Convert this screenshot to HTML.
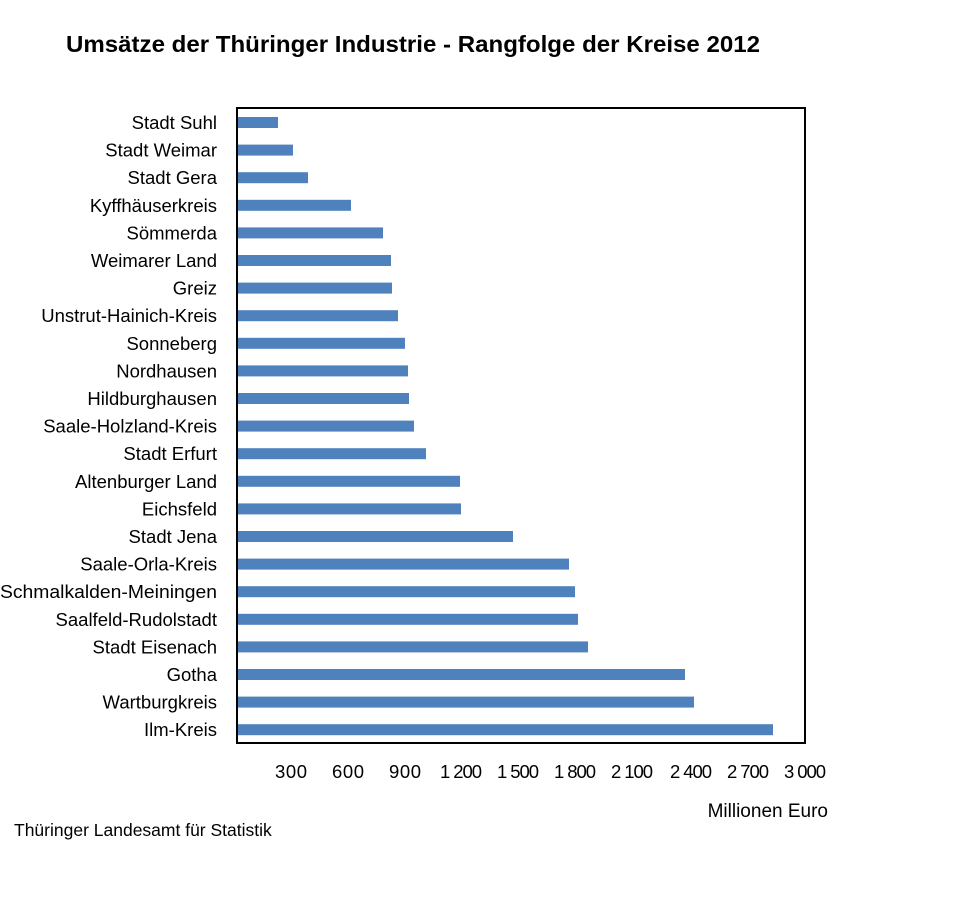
<!DOCTYPE html>
<html><head><meta charset="utf-8"><style>
html,body{margin:0;padding:0;background:#fff;}
svg{display:block;font-family:"Liberation Sans","DejaVu Sans",sans-serif;}
</style></head><body>
<svg width="957" height="900" viewBox="0 0 957 900" xmlns="http://www.w3.org/2000/svg">
<rect width="957" height="900" fill="#fff"/>
<text x="66" y="52" font-size="23" font-weight="bold" fill="#000" textLength="694" lengthAdjust="spacingAndGlyphs">Umsätze der Thüringer Industrie - Rangfolge der Kreise 2012</text>
<rect x="237" y="108" width="568" height="635" fill="none" stroke="#000" stroke-width="2"/>
<g fill="#4F81BD">
<rect x="238" y="117" width="40" height="11"/>
<rect x="238" y="144.6" width="55" height="11"/>
<rect x="238" y="172.2" width="70" height="11"/>
<rect x="238" y="199.8" width="113" height="11"/>
<rect x="238" y="227.4" width="145" height="11"/>
<rect x="238" y="255" width="153" height="11"/>
<rect x="238" y="282.6" width="154" height="11"/>
<rect x="238" y="310.2" width="160" height="11"/>
<rect x="238" y="337.8" width="167" height="11"/>
<rect x="238" y="365.4" width="170" height="11"/>
<rect x="238" y="393" width="171" height="11"/>
<rect x="238" y="420.6" width="176" height="11"/>
<rect x="238" y="448.2" width="188" height="11"/>
<rect x="238" y="475.8" width="222" height="11"/>
<rect x="238" y="503.4" width="223" height="11"/>
<rect x="238" y="531" width="275" height="11"/>
<rect x="238" y="558.6" width="331" height="11"/>
<rect x="238" y="586.2" width="337" height="11"/>
<rect x="238" y="613.8" width="340" height="11"/>
<rect x="238" y="641.4" width="350" height="11"/>
<rect x="238" y="669" width="447" height="11"/>
<rect x="238" y="696.6" width="456" height="11"/>
<rect x="238" y="724.2" width="535" height="11"/>
</g>
<g font-size="18.5" text-anchor="end" fill="#000">
<text x="217" y="129">Stadt Suhl</text>
<text x="217" y="156.6">Stadt Weimar</text>
<text x="217" y="184.2">Stadt Gera</text>
<text x="217" y="211.8">Kyffhäuserkreis</text>
<text x="217" y="239.4">Sömmerda</text>
<text x="217" y="267">Weimarer Land</text>
<text x="217" y="294.6">Greiz</text>
<text x="217" y="322.2">Unstrut-Hainich-Kreis</text>
<text x="217" y="349.8">Sonneberg</text>
<text x="217" y="377.4">Nordhausen</text>
<text x="217" y="405">Hildburghausen</text>
<text x="217" y="432.6">Saale-Holzland-Kreis</text>
<text x="217" y="460.2">Stadt Erfurt</text>
<text x="217" y="487.8">Altenburger Land</text>
<text x="217" y="515.4">Eichsfeld</text>
<text x="217" y="543">Stadt Jena</text>
<text x="217" y="570.6">Saale-Orla-Kreis</text>
<text x="217" y="598.2" textLength="217" lengthAdjust="spacingAndGlyphs">Schmalkalden-Meiningen</text>
<text x="217" y="625.8">Saalfeld-Rudolstadt</text>
<text x="217" y="653.4">Stadt Eisenach</text>
<text x="217" y="681">Gotha</text>
<text x="217" y="708.6">Wartburgkreis</text>
<text x="217" y="736.2">Ilm-Kreis</text>
</g>
<g font-size="18.5" fill="#000" lengthAdjust="spacingAndGlyphs">
<text x="275" y="778" textLength="32">300</text>
<text x="332" y="778" textLength="32">600</text>
<text x="389" y="778" textLength="32">900</text>
<text x="440" y="778" textLength="42">1 200</text>
<text x="497" y="778" textLength="42">1 500</text>
<text x="554" y="778" textLength="42">1 800</text>
<text x="611" y="778" textLength="42">2 100</text>
<text x="670" y="778" textLength="42">2 400</text>
<text x="727" y="778" textLength="42">2 700</text>
<text x="784" y="778" textLength="42">3 000</text>
</g>
<text x="828" y="817" font-size="19" text-anchor="end">Millionen Euro</text>
<text x="14" y="836" font-size="17.5">Thüringer Landesamt für Statistik</text>
</svg>
</body></html>
